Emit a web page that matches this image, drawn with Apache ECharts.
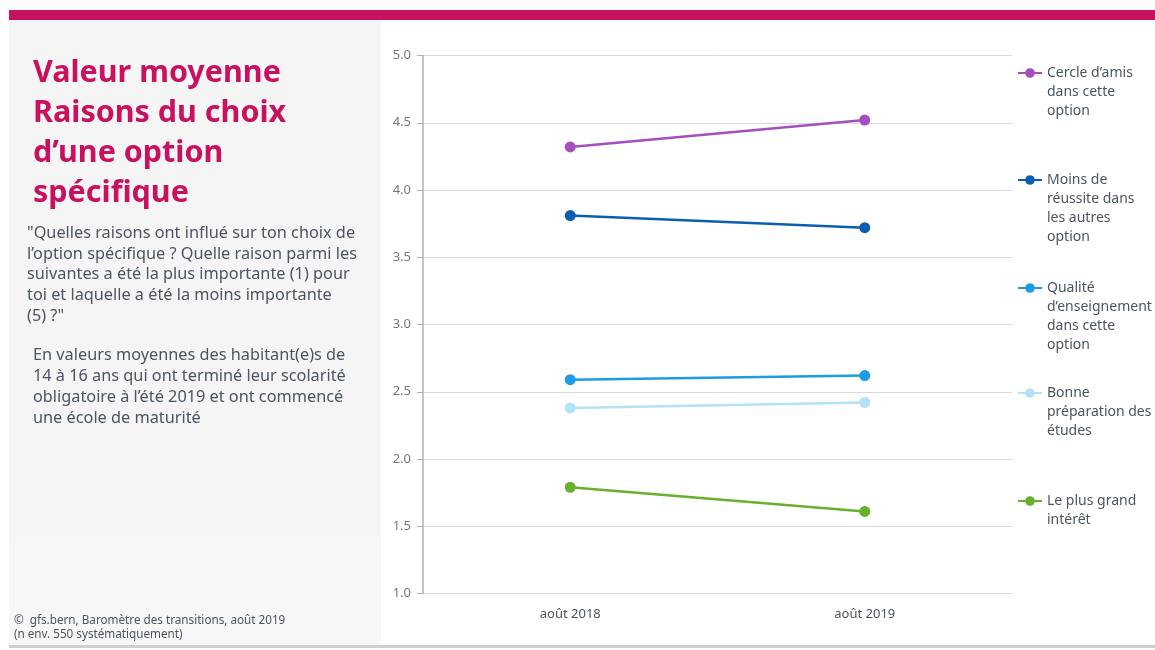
<!DOCTYPE html>
<html><head><meta charset="utf-8">
<script src="https://cdn.jsdelivr.net/npm/echarts@6/dist/echarts.min.js"></script>
<style>html,body{margin:0;padding:0;background:#fff}#c{width:1155px;height:650px}</style>
</head><body><div id="c"></div>
<script>
const categories = ['août 2018', 'août 2019'];
const seriesNames = [
  'Cercle d\u2019amis\ndans cette\noption',
  'Moins de\nréussite dans\nles autres\noption',
  'Qualité\nd\u2019enseignement\ndans cette\noption',
  'Bonne\npréparation des\nétudes',
  'Le plus grand\nintérêt'
];
const cercle = [4.32, 4.52];
const moins = [3.81, 3.72];
const qualite = [2.59, 2.62];
const bonne = [2.38, 2.42];
const interet = [1.79, 1.61];
const yTicks = [1.0, 1.5, 2.0, 2.5, 3.0, 3.5, 4.0, 4.5, 5.0];
const colors = ['#A64DBF', '#0B5EAF', '#1D9BE5', '#B5E1F8', '#6AB02D'];
const values = [cercle, moins, qualite, bonne, interet];

const FONT = '"Noto Sans", sans-serif';
const textCol = '#4A5561';
const LH = 19;
const legendIconY = [73, 180, 288, 393, 501];

const chart = echarts.init(document.getElementById('c'));
chart.setOption({
  animation: false,
  textStyle: { fontFamily: FONT },
  grid: { left: 423, right: 143, top: 55.5, bottom: 56.5, containLabel: false },
  xAxis: {
    type: 'category', data: categories, boundaryGap: true,
    axisLine: { show: false }, axisTick: { show: false },
    axisLabel: { color: textCol, fontSize: 13, margin: 14, fontFamily: FONT }
  },
  yAxis: {
    type: 'value', min: yTicks[0], max: yTicks[yTicks.length - 1], interval: 0.5,
    axisLine: { show: true, lineStyle: { color: '#b0b0b0', width: 1.5 } },
    axisTick: { show: true, length: 6, lineStyle: { color: '#b0b0b0' } },
    axisLabel: { color: '#777', fontSize: 13, margin: 12, formatter: v => v.toFixed(1) },
    splitLine: { lineStyle: { color: '#d9d9d9', width: 1 } }
  },
  legend: seriesNames.map((n, i) => {
    const lines = n.split('\n').length;
    return {
      data: [n], orient: 'vertical', left: 1017,
      top: legendIconY[i] - (2 * lines - 1) * LH / 2,
      padding: 0, itemWidth: 24, itemHeight: 12, itemGap: 0,
      formatter: name => '\n'.repeat(lines - 1) + name,
      textStyle: { color: textCol, fontSize: 14, lineHeight: LH, fontFamily: FONT },
      selectedMode: false
    };
  }),
  series: seriesNames.map((n, i) => ({
    name: n, type: 'line', data: values[i],
    symbol: 'circle', symbolSize: 11,
    lineStyle: { color: colors[i], width: 2.5 },
    itemStyle: { color: colors[i] },
    emphasis: { disabled: true }
  })),
  graphic: [
    { type: 'rect', shape: { x: 9, y: 10, width: 1146, height: 10 }, style: { fill: '#C8115F' }, silent: true },
    { type: 'rect', shape: { x: 9, y: 20, width: 372, height: 517 }, style: { fill: '#F5F5F5' }, silent: true },
    { type: 'rect', shape: { x: 9, y: 537, width: 372, height: 108 }, style: { fill: '#F7F7F7' }, silent: true },
    { type: 'rect', shape: { x: 9, y: 645, width: 1146, height: 3 }, style: { fill: '#CFCFCF' }, silent: true },
    { type: 'text', left: 33, top: 53, style: {
      text: 'Valeur moyenne\nRaisons du choix\nd\u2019une option\nspécifique',
      fill: '#C8115F', font: 'bold 30.5px ' + FONT, lineHeight: 40 } },
    { type: 'text', left: 27, top: 223, style: {
      text: '"Quelles raisons ont influé sur ton choix de\nl\u2019option spécifique ? Quelle raison parmi les\nsuivantes a été la plus importante (1) pour\ntoi et laquelle a été la moins importante\n(5) ?"',
      fill: textCol, font: '16.3px ' + FONT, lineHeight: 20.7 } },
    { type: 'text', left: 33, top: 345, style: {
      text: 'En valeurs moyennes des habitant(e)s de\n14 à 16 ans qui ont terminé leur scolarité\nobligatoire à l\u2019été 2019 et ont commencé\nune école de maturité',
      fill: textCol, font: '16.3px ' + FONT, lineHeight: 21 } },
    { type: 'text', left: 14, top: 614, style: {
      text: '\u00A9  gfs.bern, Baromètre des transitions, août 2019\n(n env. 550 systématiquement)',
      fill: textCol, font: '11.7px ' + FONT, lineHeight: 14 } }
  ]
});
</script></body></html>
